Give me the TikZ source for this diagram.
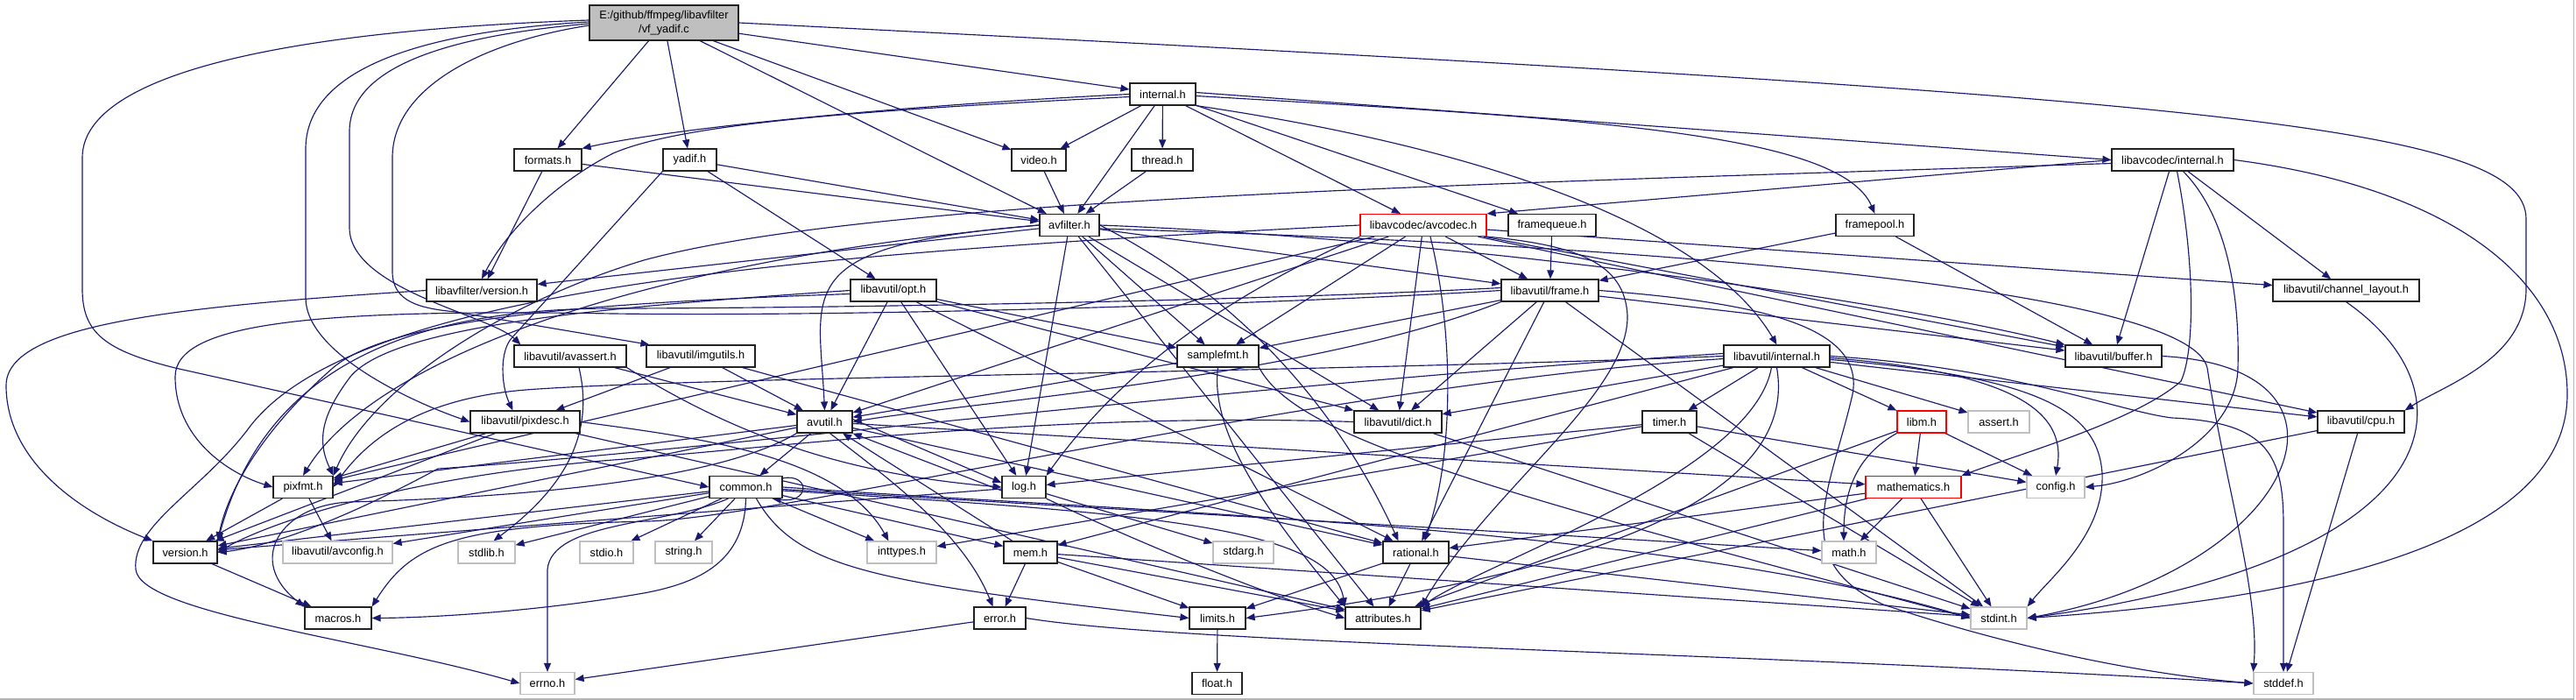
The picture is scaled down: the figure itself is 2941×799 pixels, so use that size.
\documentclass[tikz,border=0pt]{standalone}
\usepackage{fontspec}
\setmainfont{Liberation Sans}
\usetikzlibrary{arrows.meta}
\definecolor{edgecol}{HTML}{191970}
\definecolor{syscol}{HTML}{BFBFBF}
\definecolor{rootfill}{HTML}{BFBFBF}
\definecolor{framecol}{HTML}{B4B4B4}
\definecolor{boxcol}{HTML}{222222}
\pgfdeclarelayer{back}
\pgfdeclarelayer{edges}
\pgfsetlayers{back,edges,main}
\newcommand{\diagfont}{\fontsize{12.8}{16}\selectfont}
\begin{document}
\begin{tikzpicture}[x=1pt,y=-1pt,
  box/.style={draw=boxcol, line width=1.2pt, fill=white, minimum height=25pt, inner sep=0pt, font=\diagfont},
  sys/.style={box, draw=syscol},
  trunc/.style={box, draw=red},
  rootbox/.style={box, fill=rootfill, minimum height=40pt, align=center},
  edg/.style={draw=edgecol, line width=1.15pt, -{Triangle[length=10pt,width=8pt]}}
]
\useasboundingbox (0,0) rectangle (2941,799);
\begin{pgfonlayer}{back}
\fill[white] (0,0) rectangle (2941,799);
\draw[framecol, line width=1.6pt] (2938.5,0) -- (2938.5,798) -- (0,798);
\end{pgfonlayer}

% ---------------- nodes ----------------
\node[rootbox, minimum width=170pt] (root) at (758,26) {E:/github/ffmpeg/libavfilter\\/vf\_yadif.c};
\node[box, minimum width=75pt] (internal) at (1327.5,107.5) {internal.h};
\node[box, minimum width=77pt] (formats) at (625.5,182.5) {formats.h};
\node[box, minimum width=61pt] (yadif) at (787.5,182.5) {yadif.h};
\node[box, minimum width=62pt] (video) at (1186,182.5) {video.h};
\node[box, minimum width=70pt] (thread) at (1327,182.5) {thread.h};
\node[box, minimum width=139pt] (lavcint) at (2480.5,182.5) {libavcodec/internal.h};
\node[box, minimum width=68pt] (avfilter) at (1221,257) {avfilter.h};
\node[trunc, minimum width=144pt] (avcodec) at (1625,257) {libavcodec/avcodec.h};
\node[box, minimum width=100pt] (framequeue) at (1772,257) {framequeue.h};
\node[box, minimum width=89pt] (framepool) at (2140.5,257) {framepool.h};
\node[box, minimum width=126pt] (lafversion) at (550,331.5) {libavfilter/version.h};
\node[box, minimum width=98pt] (opt) at (1020,331.5) {libavutil/opt.h};
\node[box, minimum width=111pt] (frame) at (1769.5,331.5) {libavutil/frame.h};
\node[box, minimum width=167pt] (chlayout) at (2678.5,331.5) {libavutil/channel\_layout.h};
\node[box, minimum width=128pt] (avassert) at (651,406.5) {libavutil/avassert.h};
\node[box, minimum width=124pt] (imgutils) at (800,406.5) {libavutil/imgutils.h};
\node[box, minimum width=93pt] (samplefmt) at (1390.5,406.5) {samplefmt.h};
\node[box, minimum width=121pt] (lauint) at (2028.5,406.5) {libavutil/internal.h};
\node[box, minimum width=110pt] (buffer) at (2413,406.5) {libavutil/buffer.h};
\node[box, minimum width=125pt] (pixdesc) at (599.5,481.5) {libavutil/pixdesc.h};
\node[box, minimum width=63pt] (avutil) at (941.5,481.5) {avutil.h};
\node[box, minimum width=100pt] (dict) at (1596,481.5) {libavutil/dict.h};
\node[box, minimum width=62pt] (timer) at (1906,481.5) {timer.h};
\node[trunc, minimum width=56pt] (libm) at (2194,481.5) {libm.h};
\node[sys, minimum width=70pt] (assert) at (2282,481.5) {assert.h};
\node[box, minimum width=99pt] (cpu) at (2695.5,481.5) {libavutil/cpu.h};
\node[box, minimum width=68pt] (pixfmt) at (346,556) {pixfmt.h};
\node[box, minimum width=83pt] (common) at (851.5,556) {common.h};
\node[box, minimum width=50pt] (log) at (1169,556) {log.h};
\node[trunc, minimum width=109pt] (mathematics) at (2184.5,556) {mathematics.h};
\node[sys, minimum width=66pt] (config) at (2347,556) {config.h};
\node[box, minimum width=73pt] (version) at (211.5,630.5) {version.h};
\node[sys, minimum width=125pt] (avconfig) at (385.5,630.5) {libavutil/avconfig.h};
\node[sys, minimum width=65pt] (stdlib) at (555.5,630.5) {stdlib.h};
\node[sys, minimum width=61pt] (stdio) at (692.5,630.5) {stdio.h};
\node[sys, minimum width=65pt] (string) at (780.5,630.5) {string.h};
\node[sys, minimum width=79pt] (inttypes) at (1029.5,630.5) {inttypes.h};
\node[box, minimum width=61pt] (mem) at (1176.5,630.5) {mem.h};
\node[sys, minimum width=69pt] (stdarg) at (1419.5,630.5) {stdarg.h};
\node[box, minimum width=75pt] (rational) at (1616.5,630.5) {rational.h};
\node[sys, minimum width=62pt] (math) at (2111,630.5) {math.h};
\node[box, minimum width=76pt] (macros) at (386,705.5) {macros.h};
\node[box, minimum width=59pt] (error) at (1141.5,705.5) {error.h};
\node[box, minimum width=64pt] (limits) at (1390,705.5) {limits.h};
\node[box, minimum width=86pt] (attributes) at (1579,705.5) {attributes.h};
\node[sys, minimum width=64pt] (stdint) at (2282,705.5) {stdint.h};
\node[sys, minimum width=62pt] (errno) at (625,780) {errno.h};
\node[box, minimum width=57pt] (float) at (1389.5,780) {float.h};
\node[sys, minimum width=68pt] (stddef) at (2607,780) {stddef.h};

% ---------------- edges ----------------
\begin{pgfonlayer}{edges}
% root
\draw[edg] (root) -- (formats);
\draw[edg] (root) -- (yadif);
\draw[edg] (root) -- (avfilter);
\draw[edg] (root) -- (video);
\draw[edg] (root) -- (internal);
\draw[edg] (root.east) .. controls (2500,110) and (2884,140) .. (2884,250) -- (2884,330) .. controls (2884,410) and (2790,440) .. (cpu.north east);
\draw[edg] ([yshift=3pt]root.west) .. controls (300,36) and (94,90) .. (94,180) -- (94,330) .. controls (94,380) and (120,400) .. (200,420) -- (common.west);
\draw[edg] ([yshift=1pt]root.west) .. controls (450,38) and (349,90) .. (349,170) -- (349,340) .. controls (349,400) and (460,455) .. (pixdesc.west);
\draw[edg] ([yshift=-1pt]root.west) .. controls (500,42) and (399,80) .. (399,150) -- (399,260) .. controls (399,330) and (560,360) .. ([xshift=8pt]avassert.north west);
\draw[edg] ([yshift=-3pt]root.west) .. controls (550,48) and (448,100) .. (448,180) -- (448,310) .. controls (448,345) and (480,352) .. (520,356) -- ([xshift=4pt]imgutils.north west);
% internal.h
\draw[edg] (internal.west) .. controls (1000,122) and (760,148) .. (formats.north east);
\draw[edg] ([yshift=-3pt]internal.west) .. controls (1000,125) and (780,140) .. (700,175) .. controls (640,205) and (580,260) .. (lafversion.north);
\draw[edg] (internal) -- (video);
\draw[edg] (internal) -- (thread);
\draw[edg] (internal) -- (avfilter);
\draw[edg] (internal) -- (avcodec);
\draw[edg] (internal) -- (framequeue);
\draw[edg] ([yshift=-2pt]internal.east) .. controls (1800,135) and (2100,150) .. (framepool.north);
\draw[edg] ([yshift=2pt]internal.east) -- (lavcint.west);
\draw[edg] (internal.south east) .. controls (1700,170) and (1950,260) .. (lauint.north);
% formats, yadif, video, thread
\draw[edg] (formats) -- (avfilter);
\draw[edg] (formats) -- (lafversion);
\draw[edg] (yadif) -- (avfilter);
\draw[edg] (yadif) -- (opt);
\draw[edg] (yadif.south west) -- (585,385) .. controls (570,400) and (572,440) .. ([xshift=-14pt]pixdesc.north);
\draw[edg] (video) -- (avfilter);
\draw[edg] (thread) -- (avfilter);
% libavcodec/internal.h
\draw[edg] (lavcint.west) -- (avcodec.north east);
\draw[edg] (lavcint) -- (buffer);
\draw[edg] (lavcint) -- (chlayout);
\draw[edg] ([xshift=5pt]lavcint.south) .. controls (2506,300) and (2506,400) .. (2490,435) .. controls (2440,480) and (2300,520) .. (mathematics.north east);
\draw[edg] ([xshift=12pt]lavcint.south) .. controls (2556,260) and (2556,380) .. (2555,420) .. controls (2553,500) and (2450,550) .. (config.east);
\draw[edg] (lavcint.east) .. controls (2800,215) and (2931,320) .. (2931,450) .. controls (2931,600) and (2700,680) .. (stdint.east);
\draw[edg] ([yshift=-4pt]lavcint.west) .. controls (1700,210) and (1000,225) .. (735,297) .. controls (560,350) and (420,450) .. (pixfmt.north east);
% avfilter.h
\draw[edg] (avfilter) -- (lafversion);
\draw[edg] (avfilter.west) .. controls (700,300) and (420,420) .. (pixfmt.north);
\draw[edg] (avfilter.west) .. controls (900,280) and (935,330) .. (avutil.north);
\draw[edg] (avfilter) -- (log);
\draw[edg] (avfilter) -- (attributes);
\draw[edg] (avfilter) -- (samplefmt);
\draw[edg] (avfilter) -- (dict);
\draw[edg] (avfilter.east) .. controls (1400,330) and (1520,450) .. ([xshift=-20pt]rational.north);
\draw[edg] (avfilter) -- (frame);
\draw[edg] (avfilter.east) .. controls (1600,270) and (2100,330) .. (buffer.north west);
\draw[edg] ([yshift=-4pt]avfilter.east) .. controls (1900,280) and (2500,330) .. (2520,420) .. controls (2540,550) and (2580,680) .. (stddef.north west);
% libavcodec/avcodec.h
\draw[edg] (avcodec.west) .. controls (900,290) and (400,330) .. (283,490) .. controls (230,560) and (150,600) .. (155,650) .. controls (160,700) and (420,730) .. (errno.west);
\draw[edg] (avcodec) -- (pixfmt);
\draw[edg] (avcodec) -- (avutil);
\draw[edg] (avcodec.south west) .. controls (1420,330) and (1290,410) .. (log.north east);
\draw[edg] (avcodec) -- (samplefmt);
\draw[edg] (avcodec) -- (dict);
\draw[edg] ([xshift=8pt]avcodec.south) .. controls (1660,380) and (1660,520) .. ([xshift=10pt]rational.north);
\draw[edg] (avcodec.south east) .. controls (1800,280) and (1855,300) .. (1858,360) .. controls (1860,450) and (1700,560) .. (attributes.north east);
\draw[edg] (avcodec) -- (frame);
\draw[edg] (avcodec) -- (buffer);
\draw[edg] (avcodec) -- (cpu);
\draw[edg] (avcodec) -- (chlayout);
% framequeue, framepool
\draw[edg] (framequeue) -- (frame);
\draw[edg] (framepool) -- (frame);
\draw[edg] (framepool) -- (buffer);
% libavfilter/version.h
\draw[edg] (lafversion.west) .. controls (200,350) and (7,370) .. (7,440) .. controls (7,520) and (80,580) .. (version.north west);
% opt.h
\draw[edg] (opt) -- (rational);
\draw[edg] (opt) -- (avutil);
\draw[edg] (opt) -- (dict);
\draw[edg] (opt) -- (log);
\draw[edg] (opt) -- (samplefmt);
\draw[edg] (opt.west) .. controls (700,350) and (450,370) .. (400,430) .. controls (370,470) and (360,500) .. (pixfmt.north east);
\draw[edg] ([yshift=-4pt]opt.west) .. controls (700,345) and (450,360) .. (380,420) .. controls (300,490) and (260,560) .. (version.north east);
% frame.h
\draw[edg] (frame) -- (buffer);
\draw[edg] (frame) -- (dict);
\draw[edg] (frame) -- (rational);
\draw[edg] (frame) -- (samplefmt);
\draw[edg] (frame.south west) .. controls (1500,430) and (1100,460) .. (avutil.east);
\draw[edg] (frame.west) .. controls (1500,345) and (1000,362) .. (700,358) .. controls (350,352) and (200,370) .. (200,430) .. controls (200,500) and (260,540) .. (pixfmt.west);
\draw[edg] ([yshift=3pt]frame.west) .. controls (1400,345) and (900,352) .. (700,352) .. controls (450,352) and (300,430) .. (version.north east);
\draw[edg] (frame) -- (stdint);
\draw[edg] (frame.east) .. controls (2000,345) and (2130,370) .. (2115,450) .. controls (2090,560) and (2040,640) .. (2150,690) .. controls (2300,740) and (2450,770) .. (stddef.west);
% channel_layout.h, buffer.h, cpu.h
\draw[edg] (chlayout.south) .. controls (2830,450) and (2800,640) .. (stdint.east);
\draw[edg] (buffer.east) .. controls (2720,420) and (2620,650) .. (stdint.east);
\draw[edg] (cpu) -- (stddef);
\draw[edg] (cpu) -- (attributes);
% avassert.h, imgutils.h
\draw[edg] ([xshift=10pt]avassert.south) .. controls (680,500) and (640,560) .. ([xshift=8pt]stdlib.north);
\draw[edg] (avassert) -- (avutil);
\draw[edg] (avassert.south east) .. controls (830,490) and (950,540) .. (log.west);
\draw[edg] (imgutils) -- (avutil);
\draw[edg] (imgutils) -- (pixdesc);
\draw[edg] (imgutils) -- (rational);
% samplefmt.h
\draw[edg] (samplefmt) -- (avutil);
\draw[edg] (samplefmt.south) .. controls (1380,500) and (1460,600) .. (attributes.north west);
\draw[edg] (samplefmt.south east) .. controls (1480,500) and (1700,560) .. (stdint.west);
% libavutil/internal.h
\draw[edg] (lauint) -- (dict);
\draw[edg] (lauint) -- (timer);
\draw[edg] (lauint) -- (libm);
\draw[edg] (lauint) -- (assert);
\draw[edg] (lauint) -- (cpu);
\draw[edg] (lauint) -- (mem);
\draw[edg] ([yshift=-2pt]lauint.east) .. controls (2300,425) and (2360,470) .. (config.north);
\draw[edg] ([yshift=-4pt]lauint.east) .. controls (2330,430) and (2395,470) .. (2400,540) .. controls (2403,610) and (2340,660) .. (stdint.north east);
\draw[edg] (lauint.east) .. controls (2300,420) and (2420,470) .. (2480,477) .. controls (2590,482) and (2607,520) .. (2607,600) -- (stddef.north);
\draw[edg] (lauint.south) .. controls (2060,600) and (1700,670) .. (limits.east);
\draw[edg] ([xshift=-6pt]lauint.south) .. controls (2000,540) and (1700,640) .. (attributes.north east);
\draw[edg] ([yshift=-3pt]lauint.west) .. controls (1500,440) and (900,590) .. (740,595) .. controls (520,600) and (470,620) .. (macros.north east);
\draw[edg] (lauint.west) .. controls (1500,425) and (800,430) .. (600,445) .. controls (480,455) and (420,500) .. (pixfmt.east);
\draw[edg] ([yshift=3pt]lauint.west) .. controls (1400,440) and (800,515) .. (500,535) .. controls (380,600) and (300,625) .. (version.east);
% pixdesc.h, pixfmt.h, version.h
\draw[edg] (pixdesc) -- (pixfmt);
\draw[edg] (pixdesc) -- (version);
\draw[edg] (pixdesc.east) .. controls (800,500) and (960,520) .. ([xshift=-15pt]inttypes.north);
\draw[edg] (pixdesc) -- (attributes);
\draw[edg] (pixfmt) -- (version);
\draw[edg] (pixfmt) -- (avconfig);
\draw[edg] (version) -- (macros);
% avutil.h
\draw[edg] (avutil) -- (common);
\draw[edg] ([xshift=6pt]avutil.south) .. controls (1020,550) and (1100,610) .. ([xshift=-8pt]error.north);
\draw[edg] (avutil) -- (rational);
\draw[edg] (avutil) -- (version);
\draw[edg] (avutil.south west) .. controls (800,560) and (500,570) .. (400,573) .. controls (320,576) and (280,640) .. (macros.north west);
\draw[edg] (avutil) -- (mathematics);
\draw[edg] ([yshift=3pt]avutil.east) -- ([yshift=5pt]log.west);
\draw[edg] (avutil) -- (pixfmt);
% dict.h, timer.h
\draw[edg] (dict.west) .. controls (1200,470) and (900,510) .. (700,525) .. controls (450,545) and (300,600) .. (version.east);
\draw[edg] (dict) -- (stdint);
\draw[edg] (timer) -- (config);
\draw[edg] (timer) -- (inttypes);
\draw[edg] (timer) -- (stdint);
\draw[edg] (timer) -- (log);
% libm.h, mathematics.h
\draw[edg] (libm) -- (mathematics);
\draw[edg] (libm.south west) .. controls (2120,520) and (2105,560) .. ([xshift=-6pt]math.north);
\draw[edg] (libm) -- (config);
\draw[edg] (libm) -- (attributes);
\draw[edg] (mathematics) -- (math);
\draw[edg] (mathematics) -- (rational);
\draw[edg] (mathematics) -- (stdint);
\draw[edg] (mathematics) -- (attributes);
% common.h
\draw[edg] ([yshift=-3pt]common.north east) .. controls (925,540) and (925,575) .. ([xshift=-12pt]common.south east);
\draw[edg] (common) -- (string);
\draw[edg] (common) -- (stdio);
\draw[edg] (common) -- (stdlib);
\draw[edg] (common) -- (inttypes);
\draw[edg] (common) -- (mem);
\draw[edg] ([xshift=12pt]common.south) .. controls (910,650) and (1000,665) .. (limits.west);
\draw[edg] (common) -- (math);
\draw[edg] (common.east) .. controls (1300,585) and (1900,600) .. (stdint.west);
\draw[edg] ([yshift=-4pt]common.east) .. controls (1300,585) and (1520,600) .. (attributes.north west);
\draw[edg] (common.south) .. controls (850,640) and (800,665) .. (735,677) .. controls (620,697) and (500,705) .. (macros.east);
\draw[edg] ([xshift=-20pt]common.south) .. controls (760,600) and (630,595) .. (625,650) -- (errno.north);
\draw[edg] (common) -- (version);
\draw[edg] (common) -- (avconfig);
% log.h
\draw[edg] (log) -- (stdarg);
\draw[edg] ([yshift=-4pt]log.west) -- (avutil.south east);
\draw[edg] (log.south east) .. controls (1300,620) and (1450,680) .. (attributes.west);
\draw[edg] (log) -- (version);
% mem.h, error.h, rational.h, limits.h
\draw[edg] (mem) -- (error);
\draw[edg] (mem) -- (limits);
\draw[edg] (mem) -- (attributes);
\draw[edg] (mem) -- (stdint);
\draw[edg] (mem) -- (avutil);
\draw[edg] (error) -- (errno);
\draw[edg] (error.east) .. controls (1350,735) and (2000,745) .. (stddef.west);
\draw[edg] (rational) -- (attributes);
\draw[edg] (rational) -- (limits);
\draw[edg] (rational) -- (stdint);
\draw[edg] (limits) -- (float);
\end{pgfonlayer}
\end{tikzpicture}
\end{document}
